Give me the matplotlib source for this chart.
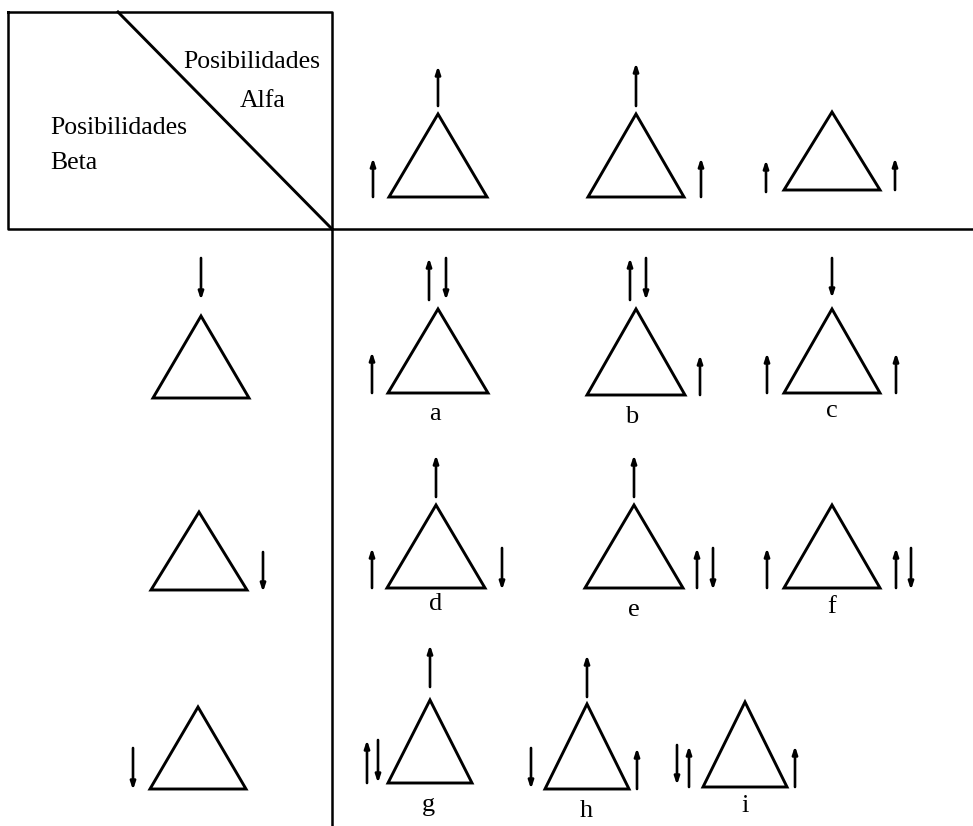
import matplotlib.pyplot as plt
from matplotlib.patches import Polygon

# triangulos: (x del vertice, y del vertice, y de la base, medio ancho) en pixeles de la imagen
triAlfa = [(438, 114, 197, 49), (636, 114, 197, 48), (832, 112, 190, 48)]
triBeta = [(201, 316, 398, 48), (199, 512, 590, 48), (198, 707, 789, 48)]
triGrid = [(438, 309, 393, 50), (636, 309, 395, 49), (832, 309, 393, 48),
           (436, 505, 588, 49), (634, 505, 588, 49), (832, 505, 588, 48),
           (430, 700, 783, 42), (587, 704, 789, 42), (745, 702, 787, 42)]

# flechas: (x, y inicio, y final) -> la punta va en y final
arrowsUp = [(438, 106, 66), (373, 197, 158), (636, 106, 63), (701, 197, 158),
            (766, 192, 160), (895, 190, 158),
            (429, 300, 258), (372, 393, 352), (630, 300, 258), (700, 395, 355),
            (767, 393, 353), (896, 393, 353),
            (436, 497, 455), (372, 588, 548), (634, 497, 455), (697, 588, 548),
            (767, 588, 548), (896, 588, 548),
            (430, 687, 645), (367, 783, 740), (587, 697, 655), (637, 789, 748),
            (689, 787, 746), (795, 787, 746)]
arrowsDown = [(201, 258, 300), (263, 552, 592), (133, 748, 790),
              (446, 258, 300), (646, 258, 300), (832, 258, 298),
              (502, 548, 590), (713, 548, 590), (911, 548, 590),
              (378, 740, 783), (531, 748, 789), (677, 745, 785)]

labels = ["a", "b", "c", "d", "e", "f", "g", "h", "i"]
labelPos = [(435, 414), (632, 417), (832, 411), (436, 604), (634, 610), (832, 607),
            (428, 805), (586, 811), (745, 806)]

fig = plt.figure(figsize=(9.73, 8.26), dpi=100)
ax = fig.add_axes([0, 0, 1, 1])
ax.set_xlim(0, 973)
ax.set_ylim(826, 0)
ax.axis("off")

lw = 2.1
# cuadro de encabezado
ax.plot([8, 332, 332, 8, 8], [12, 12, 229, 229, 12], color="black", lw=1.8)
ax.plot([118, 332], [12, 229], color="black", lw=2.1)
ax.plot([332, 973], [229, 229], color="black", lw=1.8)
ax.plot([332, 332], [229, 826], color="black", lw=1.8)

fuente = "Liberation Serif"
ax.text(183, 62, "Posibilidades", fontsize=18.5, family=fuente, va="center", ha="left")
ax.text(240, 101, "Alfa", fontsize=18.5, family=fuente, va="center", ha="left")
ax.text(50, 128, "Posibilidades", fontsize=18.5, family=fuente, va="center", ha="left")
ax.text(50, 163, "Beta", fontsize=18.5, family=fuente, va="center", ha="left")

for cx, ay, by, hw in triAlfa + triBeta + triGrid:
    ax.add_patch(Polygon([(cx, ay), (cx - hw, by), (cx + hw, by)], closed=True,
                         fill=False, edgecolor="black", lw=lw, joinstyle="miter"))

for x, y0, y1 in arrowsUp + arrowsDown:
    ax.annotate("", xy=(x, y1), xytext=(x, y0),
                arrowprops=dict(arrowstyle="-|>,head_length=0.45,head_width=0.15",
                                color="black", lw=1.9, shrinkA=0, shrinkB=0))

for lab, (x, y) in zip(labels, labelPos):
    ax.text(x, y, lab, fontsize=19, family=fuente, ha="center", va="center")

fig.savefig("out.png", dpi=100)
